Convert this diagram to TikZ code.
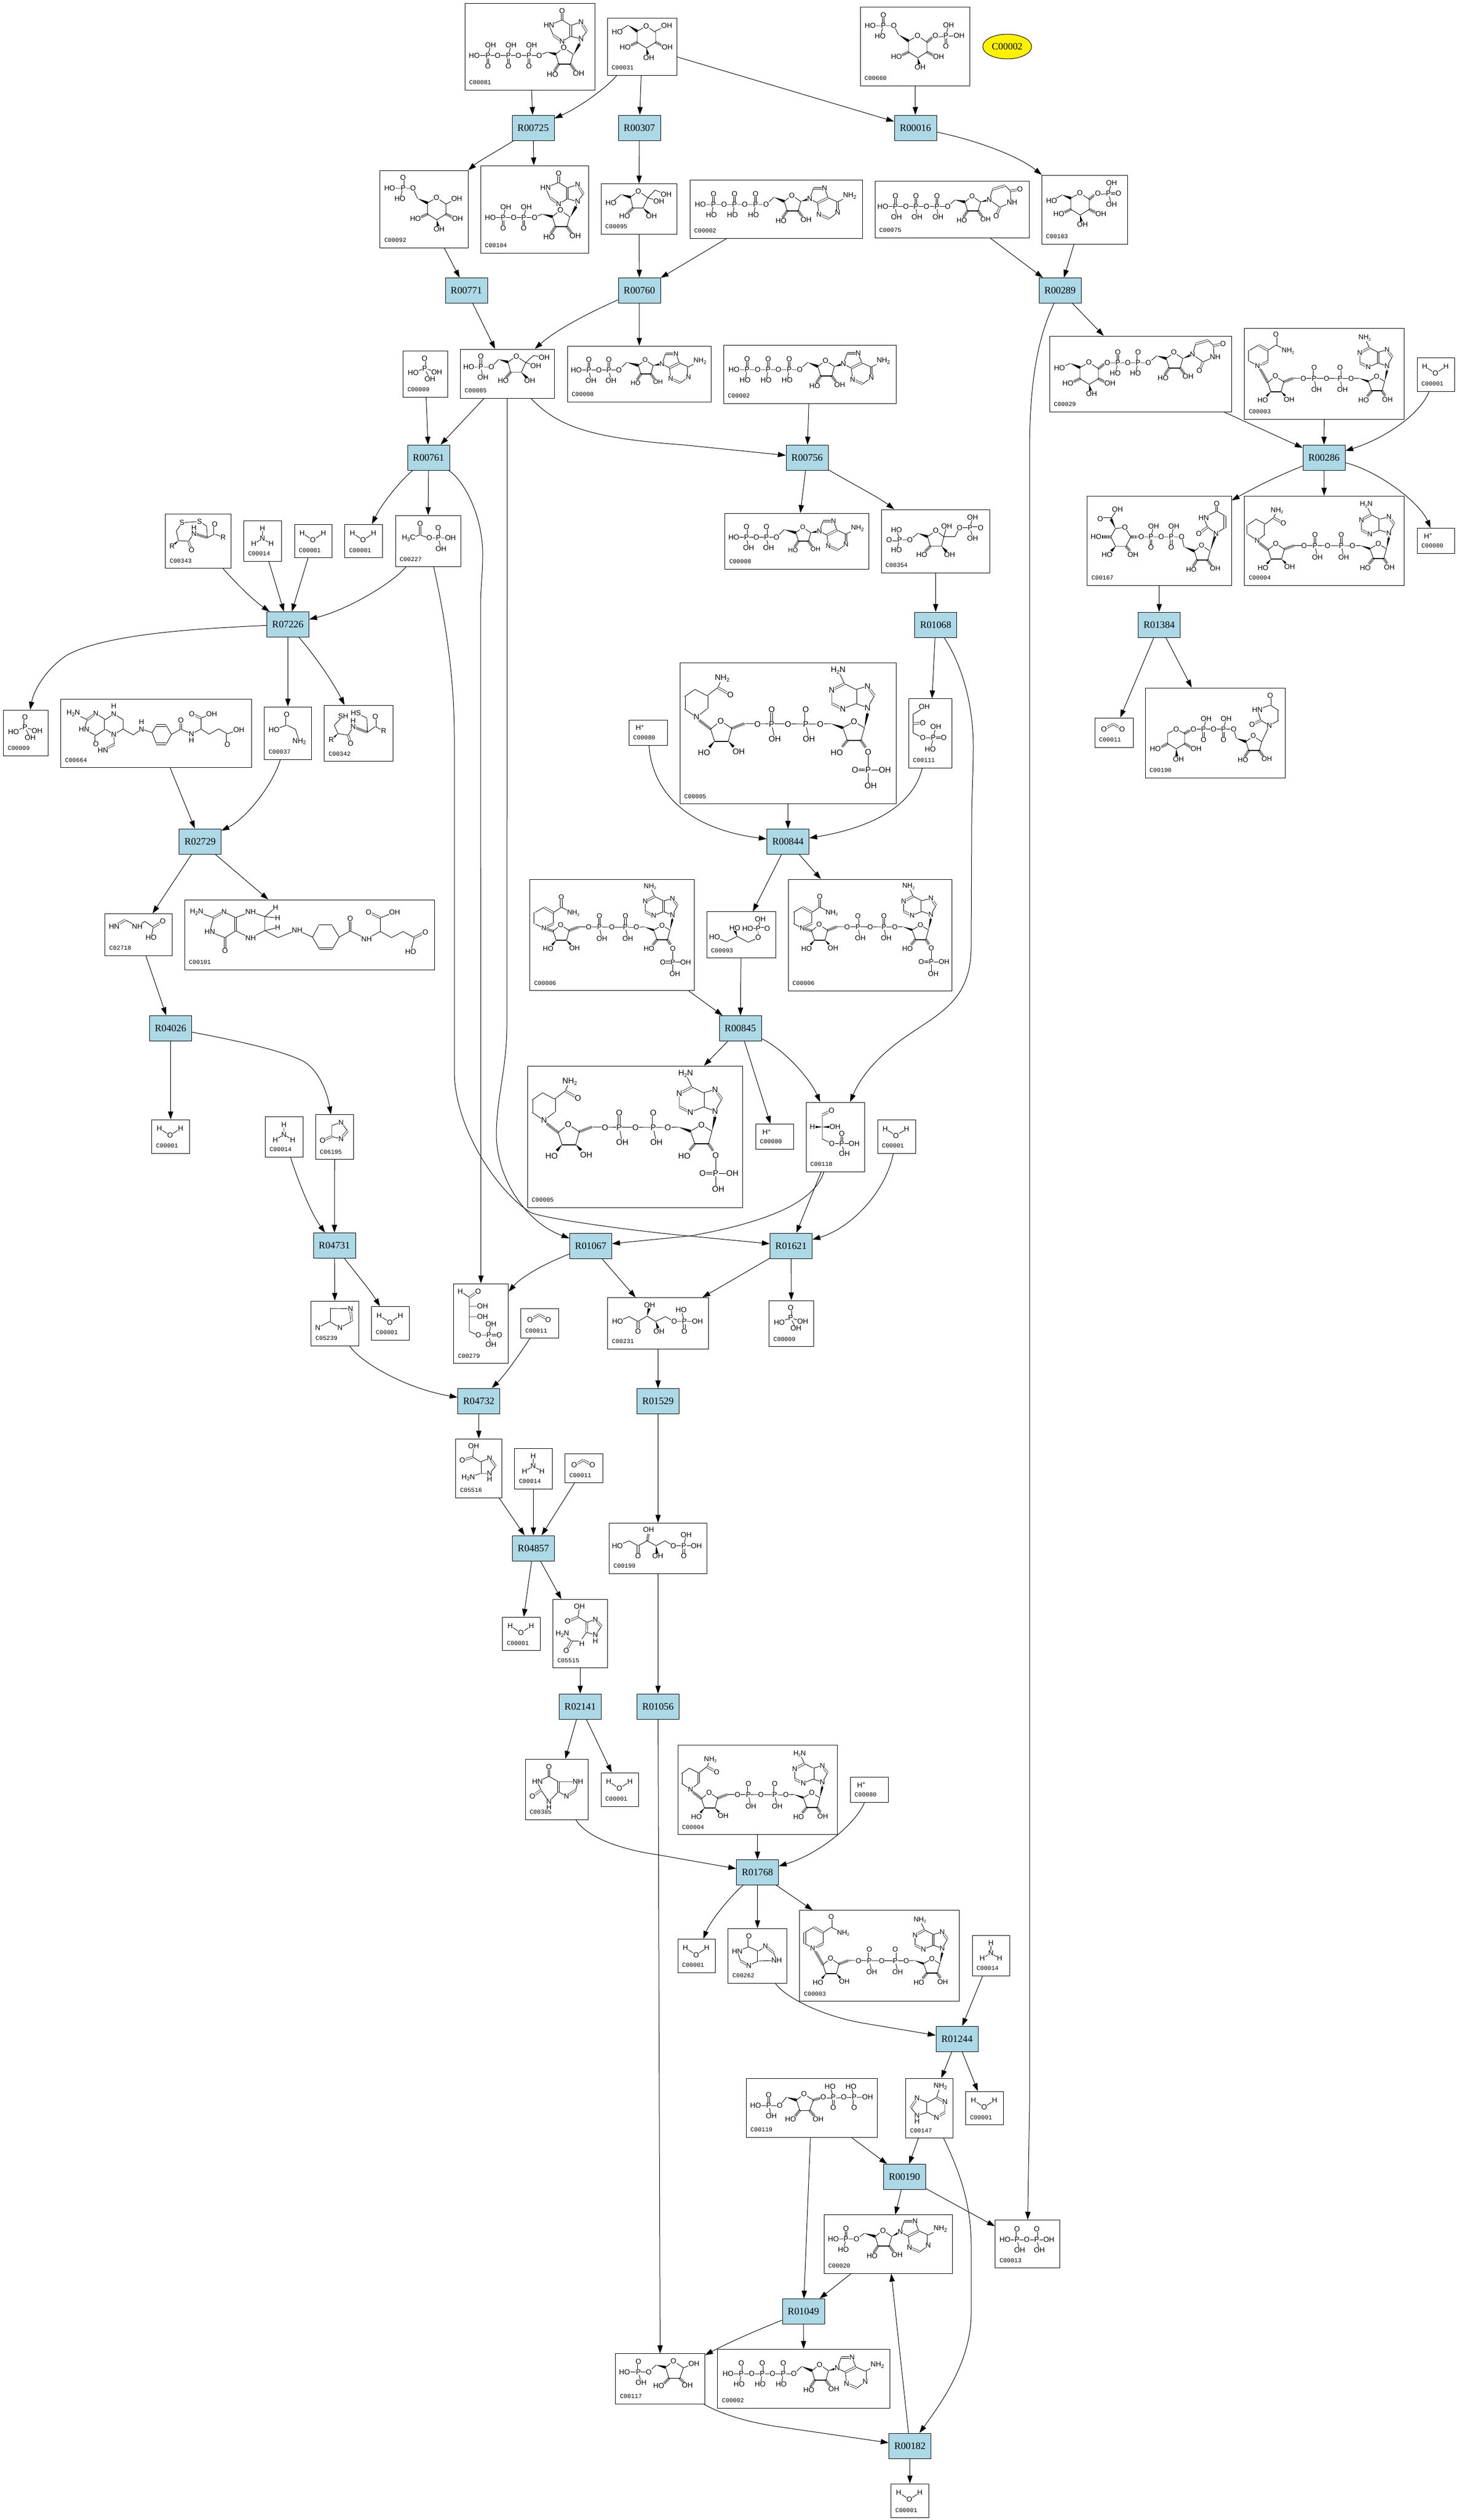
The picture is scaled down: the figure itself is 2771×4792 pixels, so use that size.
\documentclass[tikz,border=0pt]{standalone}
\usepackage{fontspec}
\setmainfont{Liberation Serif}
\setsansfont{Liberation Sans}
\setmonofont{Liberation Mono}
\usetikzlibrary{arrows.meta,calc,shapes.geometric}
\definecolor{rblue}{RGB}{173,216,230}
\newcount\atc
\newif\ifatompass
\newcommand\gobI[1]{}
\newcommand\gobII[2]{}
\newcommand\gobIII[3]{}
\newcommand\atfs{\fontsize{6.9}{8}\selectfont}
\newcommand\sbs[1]{\raisebox{-.35ex}{\fontsize{5}{5}\selectfont #1}}
\newcommand\sps[1]{\raisebox{.6ex}{\fontsize{5}{5}\selectfont #1}}
\newcommand\pd{20}
\newcommand\AtReal[3]{\global\advance\atc by 1\relax\node[atm] (t\the\atc) at (#1,#2) {#3};}
\newcommand\AtsReal[1]{\foreach \xx/\yy/\aT in {#1}{\AtReal{\xx}{\yy}{\aT}}}
\newcommand\LnReal[1]{\draw[bd] #1;}
\newcommand\DlReal[2]{\draw[dbl] (#1)--(#2);}
\newcommand\WdReal[2]{\fill[black] (#1) -- ($(#2)!1.4pt!90:(#1)$) -- ($(#2)!1.4pt!-90:(#1)$) -- cycle;}
\newcommand\HsReal[2]{\draw[hsh] (#1)--(#2);}
\newcommand\BbReal[2]{\draw[bdb] (#1)--(#2);}
\newcommand\At{\ifatompass\expandafter\AtReal\else\expandafter\gobIII\fi}
\newcommand\Ats{\ifatompass\expandafter\AtsReal\else\expandafter\gobI\fi}
\newcommand\Ln{\ifatompass\expandafter\gobI\else\expandafter\LnReal\fi}
\newcommand\Dl{\ifatompass\expandafter\gobII\else\expandafter\DlReal\fi}
\newcommand\Wd{\ifatompass\expandafter\gobII\else\expandafter\WdReal\fi}
\newcommand\Hs{\ifatompass\expandafter\gobII\else\expandafter\HsReal\fi}
\newcommand\Bb{\ifatompass\expandafter\gobII\else\expandafter\BbReal\fi}
\newcommand\Fr[4]{\begin{scope}[shift={(#1,#2)},scale=#3]#4\end{scope}}
\newcommand\PUd[4]{\Dl{#1,#2}{#1,#2-\pd}\Ln{(#1,#2)--(#1+#3,#2+\pd)}\At{#1}{#2}{P}\At{#1}{#2-\pd}{O}\At{#1+#3}{#2+\pd}{#4}}
\newcommand\PDd[4]{\Dl{#1,#2}{#1,#2+\pd}\Ln{(#1,#2)--(#1+#3,#2-\pd)}\At{#1}{#2}{P}\At{#1}{#2+\pd}{O}\At{#1+#3}{#2-\pd}{#4}}
% ---------- fragments
\newcommand\RibA{\Ln{(0,0)--(14.5,-11.5)--(31.5,0)--(26.5,18)--(5.5,18)--cycle}\Bb{26.5,18}{5.5,18}\Hs{5.5,18}{-3,31}\Hs{26.5,18}{35,30}\Ats{14.5/-11.5/O,-6/37/HO,41.5/34.5/OH}}
\newcommand\AdeA{\Ln{(0,0)--(7,-20) (28,-20)--(35,-2)--(53,6) (53,26)--(37,38) (17.5,29.6)--(15,8)--(0,0) (53,6)--(76,-6)}\Dl{7,-20}{28,-20}\Dl{35,-2}{15,8}\Dl{53,6}{53,26}\Dl{37,38}{17.5,29.6}\Ats{0/0/N,28/-20/N,53/26/N,17.5/29.6/N,76/-6/NH\sbs{2}}}
\newcommand\InoF{\Fr{0}{0}{1.05}{\RibA}\Ln{(12,-65)--(-13,-55)--(-4.6,-36) (12,-24)--(28.5,-34) (28.5,-54.7)--(12,-65) (28.5,-54.7)--(48,-61) (59,-43)--(48,-29)--(28.5,-34) (48,-29)--(45,-19)}\Dl{12,-65}{12,-82}\Dl{-4.6,-36}{12,-24}\Dl{28.5,-34}{28.5,-54.7}\Dl{48,-61}{59,-43}\Wd{34,1}{45,-19}\Ats{12/-82/O,-13/-55/HN,12/-24/N,48/-61/N,48/-29/N}}
\newcommand\UraF{\Ln{(0,0)--(6,-20) (30,-27)--(40,-17)--(41,5)--(20,14)--(0,0)}\Dl{6,-20}{30,-27}\Dl{40,-17}{58,-20}\Dl{20,14}{13,31}\Ats{0/0/N,58/-20/O,43/5/NH,13/31/O}}
\newcommand\PyrF{\Ln{(0,0)--(17,-10)--(35,2)--(35,21)--(17.5,32)--(0,21)--cycle}\At{17}{-10}{O}}
\newcommand\PyrS{\Hs{0,21}{-13,27}\Hs{35,21}{47,27}\Wd{17.5,32}{20,44}\Ats{-23/30/HO,57/30/OH,22/50/OH}}
\newcommand\ATP{\Ln{(20,47)--(145,47)--(160,33)}\PUd{45}{47}{-4}{HO}\PUd{85}{47}{-4}{HO}\PUd{125}{47}{-4}{HO}\Ats{20/47/HO,65/47/O,104.5/47/O,145/47/O}\Wd{160,33}{179.5,41}\Fr{179.5}{41}{1}{\RibA}\Wd{211,41}{228,36}\Fr{228}{36}{1}{\AdeA}}
\newcommand\ADP{\Ln{(17,45.6)--(98,45.6)--(113,31)}\PUd{41}{45.6}{4}{OH}\PUd{79}{45.6}{4}{OH}\Ats{17/45.6/HO,60/45.6/O,98/45.6/O}\Wd{113,31}{135,37}\Fr{135}{37}{.9}{\RibA}\Wd{163,37}{180,34}\Fr{180}{34}{.95}{\AdeA}}
\newcommand\Wat{\Ln{(14.7,16.8)--(35,30)--(55,16.8)}\Ats{14.7/16.8/H,35/30/O,55/16.8/H}}
\newcommand\Amm{\Ln{(35.5,15)--(35.5,34)--(19,44) (35.5,34)--(52,44)}\Ats{35.5/15/H,35.5/34/N,19/44/H,52/44/H}}
\newcommand\Hp{\At{21}{14.6}{H\sps{+}}}
\newcommand\Cdo{\Dl{17.4,21.4}{35,12}\Dl{35,12}{52,21.4}\Ats{17.4/21.4/O,52/21.4/O}}
\newcommand\PiM{\Ln{(41,33)--(19.4,41.3) (41,33)--(64,40) (41,33)--(51,53)}\Dl{41,33}{41,14}\Ats{41/33/P,41/14/O,19.4/41.3/HO,64/40/OH,51/53/OH}}
% NAD family, drawn in the coordinates of the largest form
\newcommand\NicoH{\Ln{(31.6,103.6)--(8.6,88) (8.6,65)--(28.7,51)--(51.7,63) (51.7,88)--(31.6,103.6) (51.7,63)--(72,47.4)--(80.4,29.6)}\Dl{8.6,88}{8.6,65}\Dl{51.7,63}{51.7,88}\Dl{72,47.4}{96,61}\Hs{58.5,126.5}{36,109}\Ats{31.6/103.6/N,80.4/29.6/NH\sbs{2},96/61/O}}
\newcommand\NicoP[2]{\begin{scope}[shift={(0,#1)}]\Ln{(35.5,119.7)--(12.8,108) (12.8,80.3)--(35.5,67) (59,80.3)--(59,108) (59,80.3)--(79,67)--(109,81.6)}\Dl{12.8,108}{12.8,80.3}\Dl{35.5,67}{59,80.3}\Dl{59,108}{35.5,119.7}\Dl{79,67}{79,40.8}\Ats{35.5/119.7/#2,79/40.8/O,109/81.6/NH\sbs{2}}\end{scope}\Hs{58.5,126.5}{35.5,119.7+#1}}
\newcommand\PhosT{\Ln{(358,170)--(358,233.7)}\Dl{358,204}{333,204}\Ln{(358,204)--(390,204)}\Ats{358/170/O,358/204/P,333/204/O,390/204/OH,363/233.7/OH}}
\newcommand\NADcore[3]{\Ln{(58.5,126.5)--(77.5,111)--(98.7,125)--(92,149.5)--(66,149.5)--cycle}\Bb{92,149.5}{66,149.5}\Wd{66,149.5}{56,161}\Wd{92,149.5}{102,160}\Ats{77.5/111/O,46/171/HO,112/169/OH}\Hs{98.7,125}{122.5,116}\Ln{(122.5,116)--(267,117)--(287,116)}\renewcommand\pd{28}\PUd{174.5}{117}{6}{OH}\PUd{239.4}{117}{6}{OH}\Ats{147.5/117/O,205.5/117/O,267/117/O}\Wd{287,116}{310,124}\Ln{(310,124)--(331,112)--(351,124)--(344.4,148)--(318.6,148)--cycle}\Bb{344.4,148}{318.6,148}\At{331}{112}{O}\Hs{318.6,148}{308,161}\At{298.5}{171}{HO}\Hs{344.4,148}{353,161}#3\Wd{351,124}{357,97}\Ln{(357,97)--(357,85.7)--(370,63) (357,45)--(334.7,51)--(313,40)--(301,15) (289,52.5)--(289,78) (310,88)--(334.7,78)--(357,85.7)}\Dl{370,63}{357,45}\Dl{334.7,51}{334.7,78}\Dl{313,40}{289,52.5}\Dl{289,78}{310,88}\Ats{357/85.7/N,357/45/N,289/52.5/N,310/88/N,301/15/#2}#1}
\newcommand\UGA[1]{\Ln{(54,62)--(72,60)--(83,78)--(74,96)--(54,96)--(45,78)--cycle}#1\At{72}{60}{O}\Hs{45,78}{28,78}\Wd{54,96}{46,105}\Hs{74,96}{82,105}\Ats{17/78/HO,38/111.6/HO,87.3/111.6/OH}\Hs{83,78}{95,78}\Ln{(95,78)--(179.6,78)--(184.5,97)}\PDd{121.4}{78}{5}{OH}\PDd{160}{78}{5}{OH}\Ats{103/78/O,141/78/O,179.6/78/O}\Wd{184.5,97}{204,105}\Fr{204}{105}{.95}{\RibA}\Wd{234,105}{245,71.4}\Ln{(245,71.4)--(262,60.6) (262,38)--(246.5,28.7)--(221.7,41.5)--(229.3,59.3)--(245,71.4)}\Dl{262,60.6}{262,38}\Dl{246.5,28.7}{246.5,14.7}\Dl{229.3,59.3}{212.5,71.4}\Ats{245/71.4/N,246.5/14.7/O,221.7/41.5/HN,212.5/71.4/O}}
\tikzset{
 atm/.style={font=\atfs\sffamily,fill=white,inner sep=.25pt,transform shape},
 bd/.style={line width=.45pt,line join=round},
 bdb/.style={line width=1pt},
 dbl/.style={double,double distance=1.3pt,line width=.38pt},
 hsh/.style={line width=2.6pt,dash pattern=on .45pt off .75pt},
 rb/.style={draw=black,fill=rblue,line width=.5pt,minimum width=40pt,minimum height=24pt,inner sep=0pt,font=\fontsize{9.4}{10}\selectfont},
 cb/.style={draw=black,fill=white,line width=.5pt,inner sep=0pt},
 idl/.style={anchor=west,inner sep=0pt,font=\fontsize{5.8}{6}\selectfont\ttfamily},
 ed/.style={-{Triangle[length=7.5pt,width=5pt]},line width=.5pt,black},
}
\newcommand\Cm[7]{\pgfmathsetmacro\cx{(#2+#4)/2}\pgfmathsetmacro\cy{(#3+#5)/2}\pgfmathsetmacro\cw{(#4-#2)*0.5}\pgfmathsetmacro\ch{(#5-#3)*0.5}\node[cb,minimum width=\cw pt,minimum height=\ch pt] (#1) at (\cx,\cy) {};\node[idl] (#1l) at (#2+8,#5-14) {#6};\begin{scope}[shift={(#2,#3)}]\atompassfalse #7\atompasstrue #7\end{scope}}
\newcommand\Rx[3]{\node[rb] (#1) at (#2,#3) {#1};}
\begin{document}
\begin{tikzpicture}[x=.5pt,y=-.5pt]
\useasboundingbox (0,0) rectangle (2771,4792);
\fill[white] (0,0) rectangle (2771,4792);
% ================= reactions
\Rx{R00725}{1014}{243}\Rx{R00307}{1216}{243}\Rx{R00016}{1741}{243}
\Rx{R00771}{887}{552.5}\Rx{R00760}{1216}{552.5}\Rx{R00289}{2016}{552.5}
\Rx{R00761}{815}{870}\Rx{R00756}{1535}{870}\Rx{R00286}{2518}{870}
\Rx{R07226}{547.5}{1187.5}\Rx{R01068}{1779.5}{1188}\Rx{R01384}{2204.6}{1188}
\Rx{R00844}{1498.6}{1600.5}\Rx{R02729}{380.6}{1600}\Rx{R04026}{324.4}{1955}\Rx{R00845}{1408}{1955.6}
\Rx{R04731}{636}{2368.5}\Rx{R01067}{1123.5}{2369}\Rx{R01621}{1504.5}{2369}
\Rx{R04732}{910.6}{2664}\Rx{R01529}{1251.5}{2664.5}\Rx{R04857}{1014.5}{2944}
\Rx{R02141}{1103.5}{3245}\Rx{R01056}{1251.5}{3245}\Rx{R01768}{1440.6}{3560.5}
\Rx{R01244}{1820}{3877}\Rx{R00190}{1720}{4139.5}\Rx{R01049}{1528}{4395.5}\Rx{R00182}{1730.5}{4651}
\node[ellipse,draw=black,fill=yellow,line width=.5pt,minimum width=46.5pt,minimum height=23.5pt,inner sep=0pt,font=\fontsize{9.2}{10}\selectfont] (C00002y) at (1915.5,88.5) {C00002};
% ================= compounds
\Cm{C00081}{884}{6}{1131}{171}{C00081}{\Ln{(18,99.5)--(141.6,99.5)--(157,93)}\PDd{44}{99.5}{5}{OH}\PDd{83}{99.5}{5}{OH}\PDd{122}{99.5}{5}{OH}\Ats{18/99.5/HO,62.5/99.5/O,102/99.5/O,141.6/99.5/O}\Wd{157,93}{173,97}\Fr{173}{97}{1}{\InoF}}
\Cm{C00031}{1155}{34}{1287.5}{143}{C00031}{\Fr{57}{25.5}{1}{\PyrF\PyrS}\Ln{(39.5,14)--(19,27) (90.6,25.5)--(113,15)}\Wd{39.5,14}{57,25.5}\Ats{19/27/HO,113/15/OH}}
\Cm{C00660}{1636}{13}{1844}{163}{C00660}{\Ln{(19,36)--(64,36)--(73,53)}\PUd{44}{36}{-6}{HO}\Ats{19/36/HO,64/36/O}\Wd{73,53}{92,65}\Fr{92}{65}{1}{\PyrF\PyrS}\Hs{127,67}{137,58}\Ln{(137,58)--(188,54.6)}\PDd{163}{54.6}{5}{OH}\Ats{143/54.6/O,188/54.6/OH}}
\Cm{C00092}{722.6}{324}{890}{471}{C00092}{\Ln{(18.5,34)--(63,34)--(71.4,53.4) (125.6,64)--(146,54)}\PUd{44}{34}{-6}{HO}\Ats{18.5/34/HO,63/34/O,146/54/OH}\Wd{71.4,53.4}{90.5,62}\Fr{90.5}{62}{1}{\PyrF\PyrS}}
\Cm{C00104}{914}{315}{1119}{481}{C00104}{\Ln{(18.5,98.5)--(102.7,98.5)--(117,92)}\PDd{43}{98.5}{5}{OH}\PDd{82}{98.5}{5}{OH}\Ats{18.5/98.5/HO,63/98.5/O,102.7/98.5/O}\Wd{117,92}{136.5,97}\Fr{136.5}{97}{1}{\InoF}}
\Cm{C00095}{1143}{349.5}{1287.5}{445}{C00095}{\Ln{(19,36.7)--(38,20.4) (56,25.5)--(71,13.8)--(89,26.5)--(80,46)--(60.6,46)--cycle (89,26.5)--(103,12)--(124,20.4) (89,26.5)--(110,33)}\Wd{38,20.4}{56,25.5}\Hs{60.6,46}{50,57}\Wd{80,46}{91,57}\Ats{19/36.7/HO,71/13.8/O,45/61/HO,96/61/OH,110/33/OH,124/20.4/OH}}
\Cm{C00002a}{1312}{342}{1640}{453}{C00002}{\ATP}
\Cm{C00075}{1664}{344}{1957}{452}{C00075}{\Ln{(15,48.5)--(138.4,48.5)--(152.4,36)}\PUd{39}{48.5}{2}{OH}\PUd{78}{48.5}{2}{OH}\PUd{118}{48.5}{2}{OH}\Ats{15/48.5/HO,59/48.5/O,98/48.5/O,138.4/48.5/O}\Wd{152.4,36}{171,40}\Fr{171}{40}{.95}{\RibA}\Wd{201,40}{217.7,36}\Fr{217.7}{36}{1}{\UraF}}
\Cm{C00103}{1981}{333}{2144}{464}{C00103}{\Fr{55.7}{44}{1}{\PyrF\PyrS}\Ln{(39,37.6)--(19,49)}\Wd{39,37.6}{55.7,44}\Hs{90.7,46}{100,38}\Ln{(100,38)--(127,35) (127,35)--(133,14.7) (127,35)--(133,56)}\Dl{127,35}{146,35}\Ats{19/49/HO,107/35/O,127/35/P,146/35/O,133/14.7/OH,133/56/OH}}
\Cm{C00009a}{766.6}{667.6}{851}{755}{C00009}{\PiM}
\Cm{C00085}{875.5}{664}{1054}{757}{C00085}{\Ln{(16,34)--(59,34)--(73,19.4) (90.6,24.5)--(106.5,13.3)--(124.4,25.5)--(116,44)--(95.7,44)--cycle (124.4,25.5)--(139,12)--(159.4,16) (124.4,25.5)--(143.5,32)}\PUd{39}{34}{4}{OH}\Wd{73,19.4}{90.6,24.5}\Hs{95.7,44}{86,55}\Wd{116,44}{127,55}\Ats{16/34/HO,59/34/O,106.5/13.3/O,81.6/60/HO,132/60/OH,143.5/32/OH,159.4/16/OH}}
\Cm{C00008a}{1079}{658}{1352.5}{764}{C00008}{\ADP}
\Cm{C00002b}{1376}{656}{1704}{767}{C00002}{\ATP}
\Cm{C00029}{1996}{639}{2342}{783}{C00029}{\Fr{58}{60}{1}{\PyrF\PyrS}\Ln{(39.6,52)--(19,60.6)}\Wd{39.6,52}{58,60}\Hs{93,62}{103,54}\Ln{(103,54)--(110,51)--(188,51)--(204,37.6)}\PUd{130}{51}{-5}{HO}\PUd{168.4}{51}{-5}{HO}\Ats{19/60.6/HO,110/51/O,149/51/O,188/51/O}\Wd{204,37.6}{222,42.7}\Fr{222}{42.7}{1}{\RibA}\Wd{253.5,42.7}{272,35}\Fr{272}{35}{1}{\UraF}}
\Cm{C00003a}{2366.6}{624}{2670.6}{797}{C00003}{\Fr{0}{7}{.76}{\renewcommand\atfs{\fontsize{8.8}{9}\selectfont}\NADcore{\NicoP{-34}{N\sps{+}}}{NH\sbs{2}}{\At{358}{170}{OH}}}}
\Cm{C00001a}{2695}{680}{2766.6}{744}{C00001}{\Wat}
\Cm{C00008b}{1378.6}{976}{1652.7}{1082}{C00008}{\ADP}
\Cm{C00354}{1676}{969}{1882.6}{1089}{C00354}{\Ln{(35,57.7)--(54.5,57.7)--(70,45) (35,57.7)--(29,38.6) (35,57.7)--(29,77) (88,51.5)--(103.6,40)--(119,51.5)--(114.7,69.7)--(93.3,69.7)--cycle (119,51.5)--(140,51.5)--(149,34.4)--(169,34.4)--(173.7,14.5) (169,34.4)--(173.7,54.4) (119,51.5)--(124.5,31.5)}\Dl{35,57.7}{15,57.7}\Dl{169,34.4}{189,34.4}\Wd{70,45}{88,51.5}\Hs{93.3,69.7}{83,80}\Wd{114.7,69.7}{124,80}\Ats{29/38.6/HO,35/57.7/P,15/57.7/O,29/77/HO,54.5/57.7/O,103.6/40/O,77/86/HO,130/86/OH,124.5/31.5/OH,149/34.4/O,169/34.4/P,189/34.4/O,173.7/14.5/OH,173.7/54.4/OH}}
\Cm{C00167}{2067.5}{943}{2342}{1113}{C00167}{\UGA{\Wd{54,62}{45,43.4}\Dl{45,43.4}{25,43.4}\Ln{(45,43.4)--(57.6,26)}\Ats{25/43.4/O,57.6/26/OH}}}
\Cm{C00004a}{2366.6}{943}{2670.6}{1113}{C00004}{\Fr{0}{5}{.77}{\renewcommand\atfs{\fontsize{8.8}{9}\selectfont}\NADcore{\NicoH}{H\sbs{2}N}{\At{358}{170}{OH}}}}
\Cm{C00080a}{2695}{1004.5}{2766.6}{1052}{C00080}{\Hp}
\Cm{C00343}{314.4}{977}{439.4}{1080.6}{C00343}{\Ln{(31.6,16.8)--(65,14.6)--(78.5,23.3)--(80,45.5)--(94,38.5)--(110,45) (31.6,16.8)--(21,33)--(25,51)--(44,52)--(54.5,37.4)}\Hs{54.5,37.4}{80,45.5}\Wd{25,51}{13,61.8}\Dl{44,52}{49.8,68.8}\Dl{94,38.5}{94,20}\Ats{31.6/16.8/S,65/14.6/S,13/61.8/R,49.8/68.8/O,54.5/37.4/N,54.5/26.5/H,94/20/O,110/45/R}}
\Cm{C00014a}{463.6}{990}{535}{1067}{C00014}{\Amm}
\Cm{C00001b}{560}{997}{631.4}{1060.7}{C00001}{\Wat}
\Cm{C00001c}{655.6}{997}{727.7}{1060.7}{C00001}{\Wat}
\Cm{C00227}{752}{980}{876}{1077.5}{C00227}{\Ln{(25,43)--(47,37.5)--(64.4,43)--(104.6,43) (81.6,43)--(86.7,63.8)}\Dl{47,37.5}{47,16}\Dl{81.6,43}{81.6,24}\Ats{25/43/H\sbs{3}C,47/16/O,64.4/43/O,81.6/43/P,81.6/24/O,104.6/43/OH,86.7/63.8/OH}}
\Cm{C00009b}{6.4}{1350}{91}{1437}{C00009}{\PiM}
\Cm{C00664}{115.4}{1329.5}{478.3}{1459.4}{C00664}{\Ln{(24,27)--(50.7,39) (67,27)--(85,39) (85,57)--(67,69)--(44.5,57)--(50.7,39) (85,39)--(101,28)--(118.7,39)--(118.7,57)--(101,67)--(85,57) (101,67)--(102,86) (118.7,57)--(138,68)--(153.6,57)--(173.7,63.4)--(182,50) (201,50)--(210.6,67)--(201,85) (182,85)--(173.7,63.4) (210.6,67)--(228.7,57)--(248.8,66)--(267,57)--(267,36)--(287,28) (267,57)--(282.4,66.7)--(300.5,56.4)--(317,66)--(338.8,58)}\Dl{50.7,39}{67,27}\Dl{85,39}{85,57}\Dl{67,69}{67,85.6}\Dl{102,86}{80.4,97}\Dl{182,50}{201,50}\Dl{201,85}{182,85}\Dl{228.7,57}{228.7,40.7}\Dl{267,36}{249.3,28}\Dl{317,66}{317,86}\Ats{24/27/H\sbs{2}N,67/27/N,44.5/57/HN,67/85.6/O,101/28/N,101/13/H,101/67/N,80.4/97/HN,153.6/57/N,153.6/43.4/H,228.7/40.7/O,248.8/66/N,248.8/78/H,249.3/28/O,287/28/OH,317/86/O,338.8/58/OH}}
\Cm{C00037}{502.6}{1344}{592.5}{1444}{C00037}{\Ln{(18.7,44)--(42.6,34.7)--(59.3,42.8)--(66.5,65.6)}\Dl{42.6,34.7}{42.6,14.6}\Ats{42.6/14.6/O,18.7/44/HO,66.5/65.6/NH\sbs{2}}}
\Cm{C00342}{616.7}{1341}{747.4}{1447.4}{C00342}{\Ln{(36,20.6)--(19,38)--(26,54)--(45.5,57)--(55,41) (60,14.6)--(81,24.4)--(82,51.5)--(97,40.6)--(113,49)}\Hs{55,41}{82,51.5}\Wd{26,54}{13.4,65.6}\Dl{45.5,57}{50,72.6}\Dl{97,40.6}{97,21.7}\Ats{36/20.6/SH,13.4/65.6/R,50/72.6/O,55/41/N,55/30/H,60/14.6/HS,97/21.7/O,113/49/R}}
\Cm{C00011a}{2082}{1365}{2155}{1421}{C00011}{\Cdo}
\Cm{C00190}{2178}{1308}{2444}{1479}{C00190}{\Ln{(42.7,86.7)--(59,78.3)--(75,86.7)--(75,106)--(59,116)--(42.7,106)--cycle}\Hs{42.7,106}{30,113}\Hs{75,106}{87,113}\Wd{59,116}{60,130}\Hs{75,86.7}{85,81}\Ln{(85,81)--(91.7,78.3)--(168.3,78.3)--(173.3,96)}\PDd{111}{78.3}{5}{OH}\PDd{149}{78.3}{5}{OH}\Wd{173.3,96}{191.7,102.3}\Fr{191.7}{102.3}{.95}{\RibA}\Ln{(221.7,102.3)--(236,71.7)--(254.3,61.7) (254.3,43.3)--(237.7,32.7)--(213.3,41.7)--(220,61.7)--(236,71.7)}\Dl{254.3,61.7}{254.3,43.3}\Dl{237.7,32.7}{237.7,14.3}\Dl{220,61.7}{203.3,70}\Ats{59/78.3/O,19.3/116/HO,96.7/116/OH,63.3/136/OH,91.7/78.3/O,130/78.3/O,168.3/78.3/O,236/71.7/N,237.7/14.3/O,213.3/41.7/HN,203.3/70/O}}
\Cm{C00005a}{1293}{1260}{1704}{1528.6}{C00005}{\renewcommand\atfs{\fontsize{7.7}{8}\selectfont}\NADcore{\NicoH}{H\sbs{2}N}{\PhosT}}
\Cm{C00080b}{1196}{1369}{1269}{1417}{C00080}{\Hp}
\Cm{C00111}{1728}{1328.6}{1810.6}{1460}{C00111}{\Ln{(30,15.3)--(21,22)--(8.6,29.6)--(8.6,65.3)--(27,74.5)--(67,74.5) (47,74.5)--(51.7,53.6) (47,74.5)--(41.3,96)}\Dl{8.6,47.4}{27,46}\Dl{47,74.5}{67,74.5}\Ats{30/15.3/OH,27/46/O,27/74.5/O,47/74.5/P,51.7/53.6/OH,67/74.5/O,41.3/96/HO}}
\Cm{C00006a}{1007.5}{1672.4}{1320}{1883.7}{C00006}{\Fr{0}{2}{.76}{\renewcommand\atfs{\fontsize{8.8}{9}\selectfont}\NADcore{\NicoP{0}{N}}{NH\sbs{2}}{\PhosT}}}
\Cm{C00093}{1344}{1733.7}{1475}{1821.4}{C00093}{\Ln{(15,48.5)--(38,57)--(58,47)--(79,58)--(98,49.5)--(98,31.6)--(102,14) (98,31.6)--(78,31.6)}\Wd{58,47}{53.4,35}\Dl{98,31.6}{115,31.6}\Ats{15/48.5/HO,53.4/31/HO,98/49.5/O,98/31.6/P,78/31.6/HO,115/31.6/O,102/14/OH}}
\Cm{C00006b}{1499}{1672}{1810.6}{1884}{C00006}{\Fr{0}{2}{.76}{\renewcommand\atfs{\fontsize{8.8}{9}\selectfont}\NADcore{\NicoP{0}{N}}{NH\sbs{2}}{\PhosT}}}
\Cm{C02718}{199.5}{1737.5}{327.7}{1817}{C02718}{\Ln{(39,12)--(61.7,23.8)--(76,14.6)--(92,25.5)--(88,45.5)}\Dl{17.7,23.8}{39,12}\Dl{92,25.5}{110,14.6}\Ats{17.7/23.8/HN,61.7/23.8/NH,110/14.6/O,88/45.5/HO}}
\Cm{C00101}{351}{1711}{826.6}{1844}{C00101}{\Ln{(23,23)--(55,34) (75,23)--(97,34)--(125.5,23)--(152.7,32)--(173,14.7) (152.7,32)--(177,34.7) (152.7,32)--(152.7,58.7)--(177,52.7) (152.7,58.7)--(125.5,72.7)--(97,59)--(77,72)--(48,61)--(55,34) (152.7,58.7)--(178,72)--(214,57.7)--(243.4,71)--(255,49.3) (281,49.3)--(294,71)--(281.7,93) (256,93)--(243.4,71) (294,71)--(315,59.3)--(346,74.3)--(372.4,60.3)--(372.4,34.3)--(399.5,23.7) (372.4,60.3)--(393.5,72)--(415.6,60.3)--(436.7,72)--(430,98.7)}\Dl{55,34}{75,23}\Dl{97,34}{97,59}\Dl{77,72}{77,97}\Dl{255,49.3}{281,49.3}\Dl{281.7,93}{256,93}\Dl{315,59.3}{315,35.3}\Dl{372.4,34.3}{350,23.7}\Dl{436.7,72}{458,61.3}\Ats{23/23/H\sbs{2}N,75/23/N,48/61/HN,77/97/O,125.5/23/NH,125.5/72.7/NH,173/14.7/H,177/34.7/H,177/52.7/H,214/57.7/NH,315/35.3/O,346/74.3/NH,350/23.7/O,399.5/23.7/OH,458/61.3/O,430/98.7/HO}}
\Cm{C00001d}{288.5}{2129}{360.5}{2193}{C00001}{\Wat}
\Cm{C00014b}{504.5}{2123.5}{576}{2200}{C00014}{\Amm}
\Cm{C06195}{600}{2119.6}{672.7}{2204.6}{C06195}{\Ln{(48.6,14.7)--(31,20.7)--(31,41.7)--(48.6,45.7) (61,30.7)--(48.6,14.7)}\Dl{31,41.7}{13.4,49}\Dl{48.6,45.7}{61,30.7}\Ats{48.6/14.7/N,13.4/49/O,48.6/45.7/N}}
\Cm{C00005b}{1003}{2027}{1412}{2296}{C00005}{\renewcommand\atfs{\fontsize{7.7}{8}\selectfont}\NADcore{\NicoH}{H\sbs{2}N}{\PhosT}}
\Cm{C00080c}{1437}{2137.7}{1509}{2185}{C00080}{\Hp}
\Cm{C00118}{1533}{2096}{1644.5}{2228}{C00118}{\Ln{(31,24)--(31,70)--(49,78.6)--(91.5,78.6) (68,78.6)--(73,98)}\Dl{31,24}{48.5,15.5}\Dl{68,78.6}{68,59.7}\Wd{31,47}{14,47}\Wd{31,47}{48,47}\Ats{48.5/15.5/O,12/47/H,55/47/OH,49/78.6/O,68/78.6/P,68/59.7/O,91.5/78.6/OH,73/98/OH}}
\Cm{C00001e}{1669}{2129.6}{1741}{2193}{C00001}{\Wat}
\Cm{C05239}{591.7}{2474}{682.4}{2559}{C05239}{\Ln{(12.6,50.5)--(35,39)--(55,50.5)--(77,39) (35,14)--(75,14.5)}\Dl{35,39}{35,14}\Dl{75,14.5}{77,39}\Ats{12.6/50.5/N,75/14.5/N,55/50.5/N}}
\Cm{C00001f}{706.5}{2484.6}{778}{2548}{C00001}{\Wat}
\Cm{C00279}{862.7}{2441}{966.6}{2592.5}{C00279}{\Ln{(12.6,14.5)--(30,26)--(30,91)--(47,98)--(87,98) (30,43)--(55,43) (30,63)--(55,63) (67,98)--(71,77) (67,98)--(71,116)}\Dl{30,26}{46.5,14.5}\Dl{67,98}{87,98}\Ats{12.6/14.5/H,46.5/14.5/O,55/43/OH,55/63/OH,47/98/O,67/98/P,71/77/OH,87/98/O,71/116/OH}}
\Cm{C00231}{1155.5}{2467.7}{1347.6}{2565}{C00231}{\Ln{(19,45)--(41,36)--(58,45)--(75,35)--(91.5,45)--(110,36)--(126.7,45)--(171,45) (146,45)--(140,23.5)}\Dl{58,45}{58,64}\Dl{146,45}{146,64}\Wd{75,35}{79,20}\Wd{91.5,45}{96,58}\Ats{19/45/HO,58/64/O,80/14.4/OH,97.6/64/OH,126.7/45/O,146/45/P,140/23.5/HO,171/45/OH,146/64/O}}
\Cm{C00009c}{1462.7}{2473}{1547.6}{2560.7}{C00009}{\PiM}
\Cm{C00011b}{990.6}{2488}{1062.7}{2544.6}{C00011}{\Cdo}
\Cm{C05516}{866.7}{2736}{954.5}{2848}{C05516}{\Ln{(34,14)--(32.7,35)--(47,44)--(64.3,36.7) (76,52)--(64.3,66)--(47,66)--(24,73.5)}\Dl{32.7,35}{12.6,40.5}\Dl{47,44}{47,66}\Dl{64.3,36.7}{76,52}\Ats{34/14/OH,12.6/40.5/O,64.3/36.7/N,64.3/66/N,64.3/77/H,24/73.5/H\sbs{2}N}}
\Cm{C00014c}{978.6}{2754}{1050.4}{2831}{C00014}{\Amm}
\Cm{C00011c}{1074.5}{2764.6}{1146}{2819.7}{C00011}{\Cdo}
\Cm{C00001g}{955.7}{3075}{1027.4}{3138.7}{C00001}{\Wat}
\Cm{C05515}{1051.6}{3041.6}{1155.5}{3171.6}{C05515}{\Ln{(50.4,13.4)--(47.8,33.5)--(64.7,43.3)--(80.8,38) (92.4,51.3)--(80.8,67)--(63.8,62.5)--(55,75) (35.7,79)--(18,65.6) (35.7,79)--(50,79)}\Dl{47.8,33.5}{28,41.5}\Dl{64.7,43.3}{63.8,62.5}\Dl{80.8,38}{92.4,51.3}\Dl{35.7,79}{25.4,97.3}\Ats{50.4/13.4/OH,28/41.5/O,80.8/38/N,80.8/67/N,80.8/79/H,55/84/H,18/65.6/H\sbs{2}N,25.4/97.3/O}}
\Cm{C00199}{1158.5}{2896}{1344.6}{2992}{C00199}{\Ln{(15.6,43.3)--(38,34)--(55,43.3)--(72.4,34)--(89.3,43.3)--(106,34)--(122,43.3)--(166,43.3) (142,43.3)--(146.4,23)}\Dl{55,43.3}{55,63}\Dl{142,43.3}{142,63}\Hs{72.4,34}{75,20}\Wd{89.3,43.3}{91,58}\Ats{15.6/43.3/HO,55/63/O,75/13/OH,92.4/63/OH,122/43.3/O,142/43.3/P,146.4/23/OH,166/43.3/OH,142/63/O}}
\Cm{C00385}{999}{3345}{1118}{3460}{C00385}{\Ln{(45,33)--(23,43)--(30,59)--(45,81)--(63,62)--(78.4,71)--(96,59)--(100,43)--(63,43)--(45,33)}\Dl{45,33}{45,15}\Dl{30,59}{13.4,70.5}\Dl{63,62}{63,43}\Dl{96,59}{78.4,71}\Ats{45/15/O,23/43/HN,13.4/70.5/O,45/81/N,45/92/H,100/43/NH,78.4/71/N}}
\Cm{C00001h}{1143}{3371}{1214.6}{3435}{C00001}{\Wat}
\Cm{C00004b}{1289}{3318}{1592}{3488.5}{C00004}{\Fr{0}{5}{.77}{\renewcommand\atfs{\fontsize{8.8}{9}\selectfont}\NADcore{\NicoH}{H\sbs{2}N}{\At{358}{170}{OH}}}}
\Cm{C00080d}{1617}{3379.5}{1689}{3427}{C00080}{\Hp}
\Cm{C00001i}{1289}{3687.4}{1360.6}{3751}{C00001}{\Wat}
\Cm{C00262}{1384.7}{3667}{1496.5}{3771}{C00262}{\Ln{(39.5,35)--(17.4,43.4)--(24,62) (39.5,70.5)--(57.6,62)--(92.4,60.7) (57.6,43.4)--(39.5,35) (57.6,43.4)--(71,34) (86.4,46)--(92.4,60.7)}\Dl{39.5,35}{39.5,14.6}\Dl{24,62}{39.5,70.5}\Dl{57.6,62}{57.6,43.4}\Dl{71,34}{86.4,46}\Ats{39.5/14.6/O,17.4/43.4/HN,39.5/70.5/N,71/34/N,92.4/60.7/NH}}
\Cm{C00003b}{1520.7}{3632.7}{1824.7}{3805.6}{C00003}{\Fr{0}{7}{.76}{\renewcommand\atfs{\fontsize{8.8}{9}\selectfont}\NADcore{\NicoP{-34}{N\sps{+}}}{NH\sbs{2}}{\At{358}{170}{OH}}}}
\Cm{C00014d}{1849}{3680}{1920.5}{3757}{C00014}{\Amm}
\Cm{C00119}{1419}{3952}{1668}{4064}{C00119}{\Ln{(18,52)--(64,52)--(76.5,36) (95.7,41.5)--(110,30)--(127.6,41.5)--(121,61.4)--(102,61.4)--cycle (140,38)--(231,35.8)}\PUd{43}{52}{5}{OH}\Wd{76.5,36}{95.7,41.5}\Hs{102,61.4}{93,72}\Hs{121,61.4}{130,72}\Hs{127.6,41.5}{140,38}\PDd{165.8}{35.8}{-6}{HO}\PDd{205.4}{35.8}{-6}{HO}\Ats{18/52/HO,64/52/O,110/30/O,84.4/77.4/HO,137/77.4/OH,146.7/35.8/O,185.6/35.8/O,231/35.8/OH}}
\Cm{C00147}{1722.4}{3952}{1812.4}{4065.5}{C00147}{\Ln{(66,15)--(58.7,36.4) (74.6,45)--(74.6,65) (58.7,74.5)--(42,65)--(21.7,70.5)--(10,56) (21.7,38)--(42,46)--(58.7,36.4)}\Dl{58.7,36.4}{74.6,45}\Dl{74.6,65}{58.7,74.5}\Dl{42,65}{42,46}\Dl{10,56}{21.7,38}\Ats{66/15/NH\sbs{2},74.6/45/N,58.7/74.5/N,21.7/38/N,21.7/70.5/N,21.7/82/H}}
\Cm{C00001j}{1836.6}{3977}{1908.7}{4040.5}{C00001}{\Wat}
\Cm{C00020}{1567}{4211.7}{1811}{4323}{C00020}{\Ln{(18,46)--(62,46)--(77,35)}\PUd{42}{46}{-5}{HO}\Ats{18/46/HO,62/46/O}\Wd{77,35}{97.6,41}\Fr{97.6}{41}{1}{\RibA}\Wd{129,41}{145.4,32.4}\Fr{145.4}{32.4}{1}{\AdeA}}
\Cm{C00013}{1892.7}{4221.4}{2015}{4312.4}{C00013}{\Ln{(18.5,37.5)--(102,37.5)}\PUd{41.5}{37.5}{5}{OH}\PUd{79}{37.5}{5}{OH}\Ats{18.5/37.5/HO,60/37.5/O,102/37.5/OH}}
\Cm{C00117}{1170.8}{4475.6}{1340.4}{4571}{C00117}{\Ln{(17,35)--(63,35)--(77,21.6) (95,26)--(110,14)--(129,27)--(122,47)--(101.4,47)--cycle (129,27)--(149,19.3)}\PUd{43.4}{35}{5}{OH}\Wd{77,21.6}{95,26}\Hs{101.4,47}{92,57}\Hs{122,47}{131,56}\Ats{17/35/HO,63/35/O,110/14/O,82/61.4/HO,136.5/60.3/OH,149/19.3/OH}}
\Cm{C00002c}{1364.7}{4467}{1692.5}{4579}{C00002}{\ATP}
\Cm{C00001k}{1694.4}{4723}{1766.4}{4787.4}{C00001}{\Wat}
% ================= connectors
\draw[ed] (C00081) -- (R00725);
\draw[ed] (C00031) .. controls (1150,170) and (1100,205) .. (R00725);
\draw[ed] (C00031) -- (R00307);
\draw[ed] (C00031) -- (R00016);
\draw[ed] (C00660) -- (R00016);
\draw[ed] (R00725) .. controls (950,285) and (912,305) .. (C00092);
\draw[ed] (R00725) -- (C00104);
\draw[ed] (R00307) -- (C00095);
\draw[ed] (C00095) -- (R00760);
\draw[ed] (C00002a) -- (R00760);
\draw[ed] (R00016) .. controls (1850,265) and (1935,295) .. (C00103);
\draw[ed] (C00092) -- (R00771);
\draw[ed] (R00771) -- (C00085);
\draw[ed] (R00760) .. controls (1130,590) and (1060,625) .. (C00085);
\draw[ed] (R00760) -- (C00008a);
\draw[ed] (C00075) -- (R00289);
\draw[ed] (C00103) -- (R00289);
\draw[ed] (R00289) -- (C00029);
\draw[ed] (R00289) .. controls (1975,640) and (1958,720) .. (1958,860) -- (1958,4000) -- (C00013);
\draw[ed] (C00009a) -- (R00761);
\draw[ed] (C00085) -- (R00761);
\draw[ed] (C00085) -- (964,1950) .. controls (964,2030) and (944,2090) .. (944,2157) .. controls (944,2240) and (1000,2325) .. (R01067);
\draw[ed] (C00085) .. controls (1060,810) and (1120,833) .. (1300,846) -- (R00756);
\draw[ed] (C00002b) -- (R00756);
\draw[ed] (R00756) -- (C00008b);
\draw[ed] (R00756) .. controls (1630,925) and (1670,945) .. (C00354);
\draw[ed] (C00029) -- (R00286);
\draw[ed] (C00003a) -- (R00286);
\draw[ed] (C00001a) .. controls (2700,790) and (2630,835) .. (R00286);
\draw[ed] (R00286) .. controls (2430,905) and (2390,925) .. (C00167);
\draw[ed] (R00286) -- (C00004a);
\draw[ed] (R00286) .. controls (2620,895) and (2700,955) .. (C00080a);
\draw[ed] (C00167) -- (R01384);
\draw[ed] (R01384) -- (C00011a);
\draw[ed] (R01384) -- (C00190);
\draw[ed] (R00761) .. controls (760,915) and (725,960) .. (C00001c);
\draw[ed] (R00761) -- (C00227);
\draw[ed] (R00761) .. controls (885,915) and (918,985) .. (918,1053) .. controls (918,1090) and (914,1120) .. (914,1150) -- (C00279);
\draw[ed] (C00227) .. controls (745,1110) and (660,1160) .. (R07226);
\draw[ed] (C00227) .. controls (845,1170) and (864,1280) .. (864,1400) -- (864,2040) .. controls (866,2150) and (950,2270) .. (1010,2306) .. controls (1040,2318) and (1200,2340) .. (1307,2350) -- (R01621);
\draw[ed] (C00343) .. controls (450,1110) and (480,1140) .. (R07226);
\draw[ed] (C00014a) -- (R07226);
\draw[ed] (C00001b) -- (R07226);
\draw[ed] (R07226) .. controls (380,1195) and (200,1205) .. (127,1246) .. controls (90,1270) and (65,1310) .. (C00009b);
\draw[ed] (R07226) -- (C00037);
\draw[ed] (R07226) .. controls (610,1260) and (640,1310) .. (C00342);
\draw[ed] (C00664) -- (R02729);
\draw[ed] (C00037) .. controls (520,1490) and (470,1555) .. (R02729);
\draw[ed] (R02729) -- (C02718);
\draw[ed] (R02729) -- (C00101);
\draw[ed] (C02718) -- (R04026);
\draw[ed] (R04026) -- (C00001d);
\draw[ed] (R04026) .. controls (430,1975) and (530,1995) .. (575,2017) .. controls (605,2033) and (622,2075) .. (C06195);
\draw[ed] (C00014b) .. controls (565,2240) and (590,2305) .. (R04731);
\draw[ed] (C06195) -- (R04731);
\draw[ed] (R04731) -- (C05239);
\draw[ed] (R04731) .. controls (680,2425) and (705,2455) .. (C00001f);
\draw[ed] (C05239) .. controls (685,2590) and (770,2640) .. (R04732);
\draw[ed] (R01067) .. controls (1030,2405) and (990,2430) .. (C00279);
\draw[ed] (C00011b) .. controls (985,2580) and (960,2615) .. (R04732);
\draw[ed] (R04732) -- (C05516);
\draw[ed] (C05516) -- (R04857);
\draw[ed] (C00014c) -- (R04857);
\draw[ed] (C00011c) -- (R04857);
\draw[ed] (R04857) -- (C00001g);
\draw[ed] (R04857) -- (C05515);
\draw[ed] (C05515) -- (R02141);
\draw[ed] (R02141) -- (C00385);
\draw[ed] (R02141) -- (C00001h);
\draw[ed] (C00385) .. controls (1120,3500) and (1200,3520) .. (1251,3527) -- (R01768);
\draw[ed] (C00004b) -- (R01768);
\draw[ed] (C00080d) .. controls (1630,3465) and (1560,3525) .. (R01768);
\draw[ed] (R01768) .. controls (1385,3610) and (1350,3655) .. (C00001i);
\draw[ed] (R01768) -- (C00262);
\draw[ed] (R01768) -- (C00003b);
\draw[ed] (C00262) .. controls (1490,3795) and (1560,3835) .. (1653,3849) -- (R01244);
\draw[ed] (C00014d) -- (R01244);
\draw[ed] (R01244) -- (C00147);
\draw[ed] (R01244) -- (C00001j);
\draw[ed] (C00119) -- (R01049);
\draw[ed] (C00119) -- (R00190);
\draw[ed] (C00147) -- (R00190);
\draw[ed] (C00147) .. controls (1825,4130) and (1847,4190) .. (1847,4270) -- (1847,4400) .. controls (1847,4490) and (1790,4570) .. (R00182);
\draw[ed] (R00190) -- (C00020);
\draw[ed] (R00190) -- (C00013);
\draw[ed] (C00020) -- (R01049);
\draw[ed] (R01049) .. controls (1430,4435) and (1385,4455) .. (C00117);
\draw[ed] (R01049) -- (C00002c);
\draw[ed] (R01056) -- (C00117);
\draw[ed] (C00117) .. controls (1370,4590) and (1420,4605) .. (1470,4613) -- (R00182);
\draw[ed] (R00182) -- (C00020);
\draw[ed] (R00182) -- (C00001k);
\draw[ed] (C00005a) -- (R00844);
\draw[ed] (C00080b) .. controls (1240,1500) and (1300,1575) .. (R00844);
\draw[ed] (C00111) .. controls (1740,1520) and (1680,1570) .. (R00844);
\draw[ed] (R00844) -- (C00093);
\draw[ed] (R00844) -- (C00006b);
\draw[ed] (C00006a) -- (R00845);
\draw[ed] (C00093) -- (R00845);
\draw[ed] (C00354) -- (R01068);
\draw[ed] (R01068) -- (C00111);
\draw[ed] (R01068) .. controls (1830,1265) and (1851,1340) .. (1851,1420) .. controls (1851,1470) and (1848,1510) .. (1848,1560) -- (1847,1800) .. controls (1847,1900) and (1790,1925) .. (1726,1969) .. controls (1680,2000) and (1640,2040) .. (C00118);
\draw[ed] (R00845) -- (C00005b);
\draw[ed] (R00845) -- (C00080c);
\draw[ed] (R00845) .. controls (1490,1995) and (1540,2050) .. (C00118);
\draw[ed] (C00118) .. controls (1550,2280) and (1480,2320) .. (1314,2350) -- (R01067);
\draw[ed] (C00118) -- (R01621);
\draw[ed] (C00001e) .. controls (1685,2265) and (1620,2335) .. (R01621);
\draw[ed] (R01067) -- (C00231);
\draw[ed] (R01621) -- (C00231);
\draw[ed] (R01621) -- (C00009c);
\draw[ed] (C00231) -- (R01529);
\draw[ed] (R01529) -- (C00199);
\draw[ed] (C00199) -- (R01056);
\end{tikzpicture}
\end{document}
